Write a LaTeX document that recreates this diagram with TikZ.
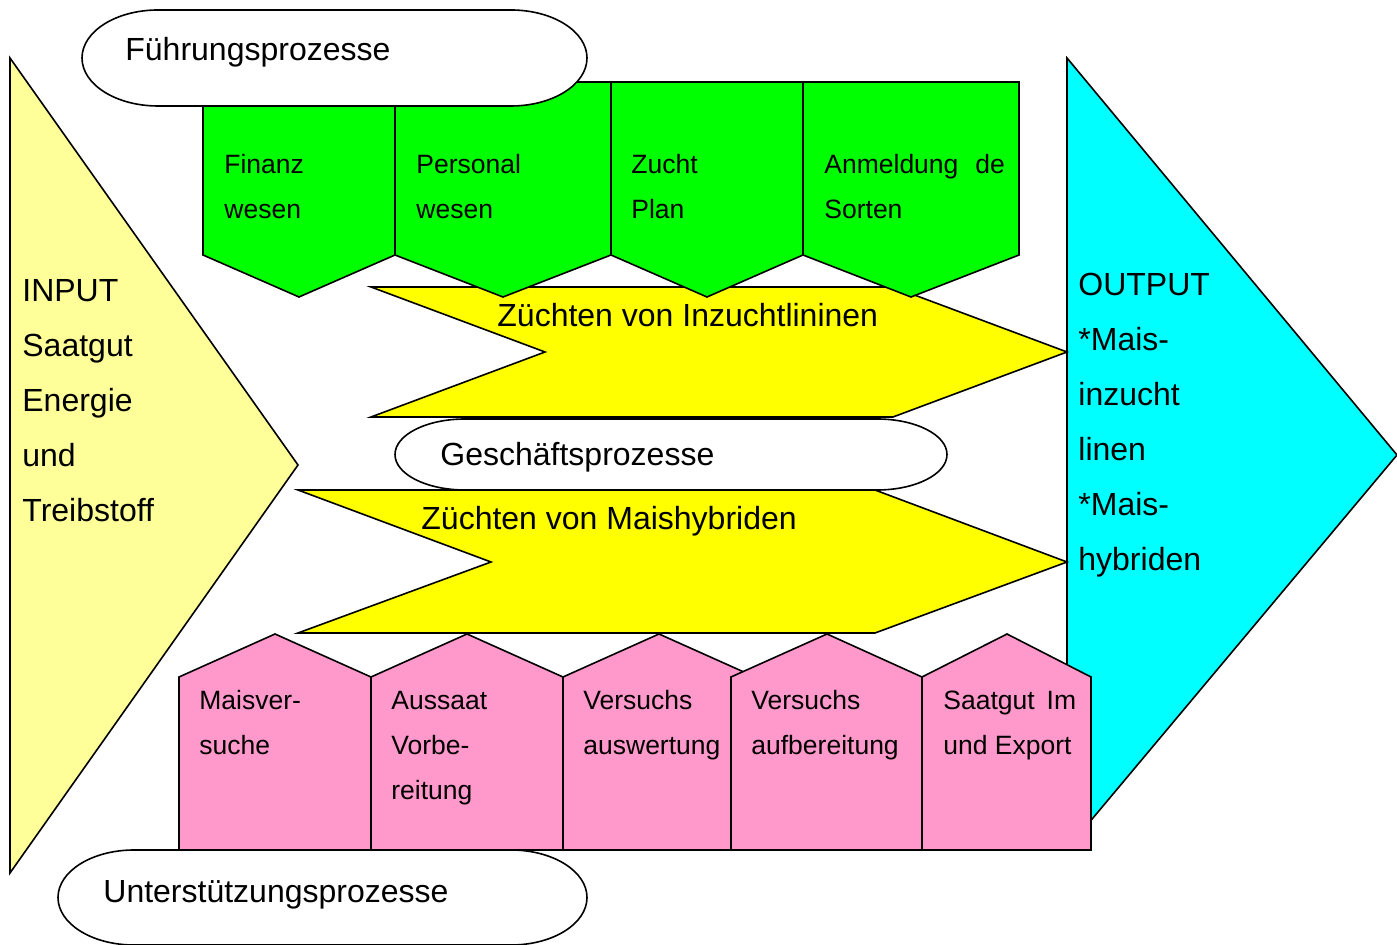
\documentclass[tikz,border=0pt]{standalone}
\usepackage{fontspec}
\setmainfont{Liberation Sans}
\definecolor{inyellow}{HTML}{FFFF99}
\definecolor{pinkbox}{HTML}{FF99CC}
\definecolor{greenbox}{HTML}{00FF00}
\definecolor{yellowarrow}{HTML}{FFFF00}
\definecolor{cyanout}{HTML}{00FFFF}
\newcommand{\downpent}[3]{\filldraw[shapeline,fill=greenbox] (#1,82) -- (#3,82) -- (#3,255) -- (#2,297) -- (#1,255) -- cycle;}
\newcommand{\uphouse}[3]{\filldraw[shapeline,fill=pinkbox] (#1,850) -- (#1,677) -- (#2,634) -- (#3,677) -- (#3,850) -- cycle;}
\newcommand{\termshape}[6]{\filldraw[shapeline,fill=white] (#1+#5,#2) -- (#3-#5,#2) arc[start angle=-90,end angle=90,x radius=#5,y radius=#6] -- (#1+#5,#4) arc[start angle=90,end angle=270,x radius=#5,y radius=#6] -- cycle;}
\begin{document}
\begin{tikzpicture}[x=0.5pt,y=-0.5pt,
  shapeline/.style={draw=black,line width=0.8pt,line join=miter},
  bigtext/.style={font=\fontsize{16}{27.5}\selectfont,inner sep=0pt,anchor=base west,align=left},
  smalltext/.style={font=\fontsize{13.25}{22.5}\selectfont,inner sep=0pt,anchor=base west,align=left}]
\useasboundingbox (0,0) rectangle (1397,945);
% input / output triangles
\filldraw[shapeline,fill=inyellow] (10,58) -- (298,465) -- (10,873) -- cycle;
\filldraw[shapeline,fill=cyanout] (1067,58) -- (1397,455) -- (1067,849) -- cycle;
% yellow chevrons
\filldraw[shapeline,fill=yellowarrow] (371,287) -- (893,287) -- (1067,352) -- (893,417) -- (371,417) -- (545,352) -- cycle;
\filldraw[shapeline,fill=yellowarrow] (298,490) -- (875,490) -- (1067,562) -- (875,633) -- (298,633) -- (491,562) -- cycle;
% green boxes
\downpent{203}{299}{395}
\downpent{395}{503}{611}
\downpent{611}{707}{803}
\downpent{803}{911}{1019}
% pink boxes
\uphouse{179}{275}{371}
\uphouse{371}{467}{563}
\uphouse{563}{659}{755}
\uphouse{731}{827}{922}
\uphouse{922}{1007}{1091}
% rounded labels
\termshape{82}{10}{587}{106}{76}{48}
\termshape{395}{419}{947}{490}{70}{35.5}
\termshape{58}{850}{587}{945}{76}{47.5}
% texts (base anchor = baseline of the last line)
\node[bigtext] (fuehrung) at (125,61) {Führungsprozesse};
\node[smalltext] (finanz) at (224,218.5) {Finanz\\wesen};
\node[smalltext] (personal) at (416,218.5) {Personal\\wesen};
\node[smalltext] (zucht) at (631,218.5) {Zucht\\Plan};
\node[smalltext] (anmeldung) at (824,218.5) {Anmeldung\hspace{8.5pt}de\\Sorten};
\node[bigtext] (inzucht) at (497,327) {Züchten von Inzuchtlininen};
\node[bigtext] (geschaeft) at (440,466) {Geschäftsprozesse};
\node[bigtext] (hybrid) at (421,530) {Züchten von Maishybriden};
\node[bigtext] (input) at (22,522) {INPUT\\Saatgut\\Energie\\und\\Treibstoff};
\node[bigtext] (output) at (1078,571) {OUTPUT\\*Mais-\\inzucht\\linen\\*Mais-\\hybriden};
\node[smalltext] (maisv) at (199,754.5) {Maisver-\\suche};
\node[smalltext] (aussaat) at (391,799.5) {Aussaat\\Vorbe-\\reitung};
\node[smalltext] (auswert) at (583,754.5) {Versuchs\\auswertung};
\node[smalltext] (aufber) at (751,754.5) {Versuchs\\aufbereitung};
\node[smalltext] (saatgut) at (943,754.5) {Saatgut\hspace{6pt}Im\\und Export};
\node[bigtext] (unterst) at (103,902) {Unterstützungsprozesse};
\end{tikzpicture}
\end{document}
